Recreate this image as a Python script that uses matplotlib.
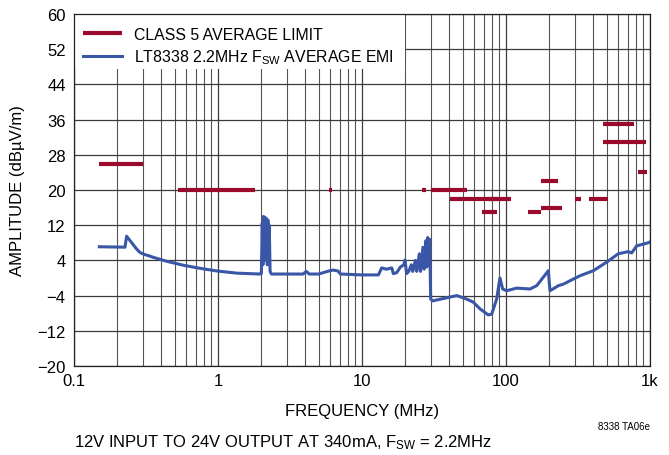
import numpy as np
import matplotlib
matplotlib.use('Agg')
import matplotlib.pyplot as plt
from matplotlib.patches import Rectangle
from matplotlib.ticker import FixedLocator, NullFormatter

font_name = 'Liberation Sans'
plt.rcParams['font.family'] = [font_name, 'DejaVu Sans']
plt.rcParams['mathtext.fontset'] = 'custom'
plt.rcParams['mathtext.rm'] = font_name
plt.rcParams['mathtext.it'] = font_name

# CISPR 25 class 5 average limit segments: (f_start, f_stop, level)
limit_start = [0.15, 0.53, 5.9, 26.0, 30.0, 41.0, 76.0, 68.0, 142.0, 174.0, 175.0, 300.0, 380.0, 470.0, 470.0, 820.0]
limit_stop = [0.30, 1.8, 6.2, 28.0, 54.0, 88.0, 108.0, 87.0, 175.0, 230.0, 245.0, 330.0, 512.0, 770.0, 940.0, 960.0]
limit_level = [26, 20, 20, 20, 20, 18, 18, 15, 15, 22, 16, 18, 18, 35, 31, 24]

emi_f = [0.15, 0.226, 0.232, 0.272, 0.287, 0.311, 0.328, 0.355, 0.44, 0.574, 0.75, 0.98, 1.35, 1.96,
         2.0, 2.03, 2.05, 2.07, 2.1, 2.12, 2.15, 2.17, 2.2, 2.22, 2.25, 2.27, 2.3, 2.35,
         2.5, 3.9, 4.1, 4.3, 5.0, 5.9, 6.3, 6.8, 7.1, 10.0, 13.0, 13.7, 14.8, 16.1, 16.5,
         17.4, 18.5, 19.5, 19.9, 20.4, 21.1, 22.0, 22.5, 23.5, 24.0, 25.0, 25.5, 26.5, 27.0,
         27.8, 28.2, 28.6, 29.0, 29.5, 30.0, 31.0, 33.0, 38.8, 45.5, 53.4, 59.3, 65.9, 75.3,
         79.6, 86.1, 90.8, 94.8, 101, 118.6, 146.8, 163.4, 196.8, 202, 230.9, 250, 326, 404,
         500, 602, 707, 746, 808, 972, 1000]
emi_db = [7.1, 7.0, 9.5, 6.6, 5.8, 5.3, 5.1, 4.7, 3.8, 2.9, 2.2, 1.6, 1.1, 0.9,
          1.0, 12.5, 3.0, 14.0, 4.0, 13.8, 5.0, 13.5, 3.0, 13.2, 6.0, 12.0, 1.5, 0.9,
          0.9, 0.9, 1.5, 0.9, 0.9, 1.6, 1.8, 1.6, 0.9, 0.7, 0.7, 2.3, 2.0, 2.3, 1.0,
          1.2, 2.5, 3.0, 4.1, 1.0, 1.5, 3.0, 1.5, 4.0, 1.5, 5.5, 1.5, 7.0, 2.0,
          8.5, 2.5, 9.2, 3.0, 8.8, -4.8, -5.2, -5.0, -4.5, -4.0, -4.8, -5.5, -7.0, -8.4,
          -8.2, -4.8, 0.0, -2.5, -2.9, -2.3, -2.5, -1.75, 1.65, -2.9, -1.75, -1.4, 0.5, 1.65,
          3.6, 5.5, 6.0, 5.7, 7.3, 8.0, 8.2]

x_ticks = [0.1, 1, 10, 100, 1000]
x_labels = ['0.1', '1', '10', '100', '1k']
y_ticks = list(range(-20, 61, 8))

red = '#990a2c'
blue = '#3a56a6'
fs = 12

fig = plt.figure(figsize=(6.69, 4.56), dpi=100)
ax = fig.add_axes([0.1106, 0.1952, 0.8610, 0.7719])

for i in range(len(limit_level)):
    ax.plot([limit_start[i], limit_stop[i]], [limit_level[i]] * 2, color=red, lw=3.0,
            solid_capstyle='butt', zorder=3,
            label='CLASS 5 AVERAGE LIMIT' if i == 0 else None)
ax.plot(emi_f, emi_db, color=blue, lw=2.2, zorder=4,
        label=r'LT8338 2.2MHz F$_{\mathrm{SW}}$ AVERAGE EMI')

ax.set_xscale('log')
ax.set_xlim(0.1, 1000)
ax.set_ylim(-20, 60)
ax.xaxis.set_major_locator(FixedLocator(x_ticks))
ax.set_xticklabels(x_labels)
minor = [m * 10.0 ** d for d in range(-1, 3) for m in range(2, 10)]
ax.xaxis.set_minor_locator(FixedLocator(minor))
ax.xaxis.set_minor_formatter(NullFormatter())
ax.set_yticks(y_ticks)
ax.set_yticklabels([str(v).replace('-', '\u2212') for v in y_ticks])
ax.tick_params(which='both', length=0, labelsize=fs, pad=5)
ax.tick_params(axis='y', pad=6)

ax.grid(which='major', color='#3a3a3a', lw=0.9)
ax.grid(which='minor', axis='x', color='#555555', lw=0.8)
ax.set_axisbelow(True)
for s in ax.spines.values():
    s.set_color('#222222')
    s.set_linewidth(0.9)

ax.set_xlabel('FREQUENCY (MHz)', fontsize=fs, labelpad=11)
ax.set_ylabel('AMPLITUDE (dB\u00b5V/m)', fontsize=fs, labelpad=9)

# white block behind the legend hides the grid there
ax.add_patch(Rectangle((0, 0.844), 0.575, 0.156, transform=ax.transAxes,
                       facecolor='white', edgecolor='none', zorder=1))
leg = ax.legend(loc='upper left', bbox_to_anchor=(-0.007, 1.0), borderaxespad=0,
                frameon=False, fontsize=11.4, handlelength=2.5, handletextpad=0.75,
                labelspacing=0.38, borderpad=0.8)
leg.set_zorder(10)

fig.text(0.9716, 0.063, '8338 TA06e', fontsize=7, ha='right', va='center')
fig.text(0.1106, 0.03, r'12V INPUT TO 24V OUTPUT AT 340mA, F$_{\mathrm{SW}}$ = 2.2MHz',
         fontsize=fs, ha='left', va='center')

fig.savefig('out.png', dpi=100)
